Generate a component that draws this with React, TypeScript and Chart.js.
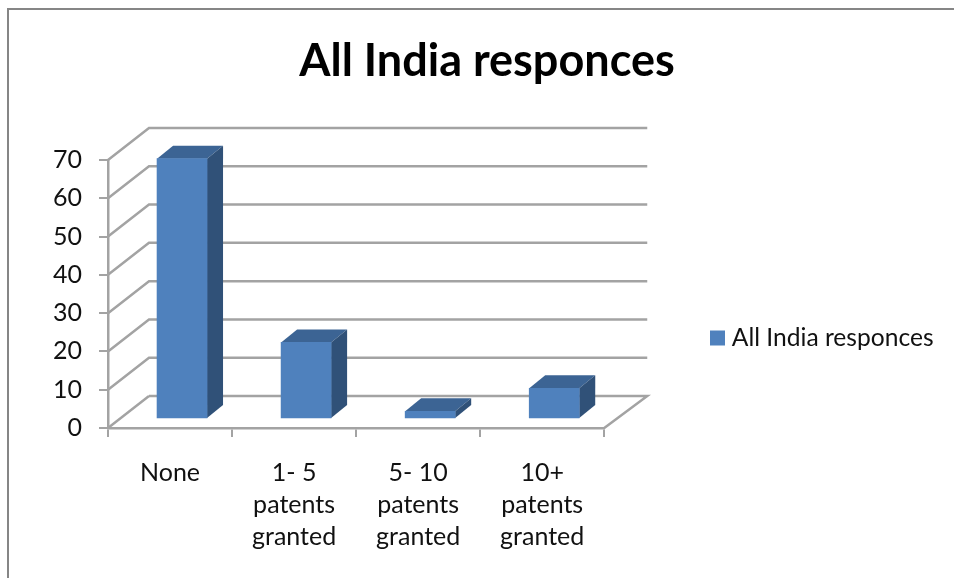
import React, { useEffect, useRef } from "react";
import { Chart, registerables } from "chart.js";

Chart.register(...registerables);

const categories: (string | string[])[] = [
  "None",
  ["1- 5", "patents", "granted"],
  ["5- 10", "patents", "granted"],
  ["10+", "patents", "granted"],
];
const seriesName = "All India responces";
const seriesValues = [68, 20, 2, 8];
const yTicks = [0, 10, 20, 30, 40, 50, 60, 70];
const titleText = "All India responces";

const FRONT = "#4F81BD";
const TOP = "#3C6494";
const SIDE = "#305178";
const GRID = "#A3A3A3";
const FONT = "Lato, Carlito, 'Open Sans', sans-serif";

const DEPTH_X = 41;
const DEPTH_Y = 32;
const BAR_X = 12;
const BAR_Y = 9;
const BAR_DX = 16;
const BAR_DY = 13;

const frame3d = {
  id: "frame3d",
  afterLayout(chart: any) {
    const lg = chart.legend;
    if (lg) {
      lg.left = 709.5;
      lg.right = 954;
      lg.top += 49;
      lg.bottom += 49;
    }
    const tb = chart.titleBlock;
    if (tb) {
      tb.left = 20;
      tb.right = 954;
    }
  },
  beforeDraw(chart: any) {
    const { ctx, scales } = chart;
    const y = scales.y;
    const x = scales.x;
    const l = x.left;
    const r = x.right;
    ctx.save();
    ctx.strokeStyle = "#868686";
    ctx.lineWidth = 2;
    ctx.beginPath();
    ctx.moveTo(8, 578);
    ctx.lineTo(8, 9);
    ctx.lineTo(954, 9);
    ctx.stroke();
    ctx.strokeStyle = GRID;
    ctx.lineWidth = 2.5;
    ctx.lineCap = "butt";
    for (const t of yTicks) {
      const py = y.getPixelForValue(t);
      ctx.beginPath();
      ctx.moveTo(l, py);
      ctx.lineTo(l + DEPTH_X, py - DEPTH_Y);
      if (t !== 0) ctx.lineTo(r + DEPTH_X + 2, py - DEPTH_Y);
      ctx.stroke();
    }
    const by = y.getPixelForValue(0);
    ctx.beginPath();
    ctx.moveTo(l + DEPTH_X, by - DEPTH_Y);
    ctx.lineTo(r + DEPTH_X + 2, by - DEPTH_Y);
    ctx.lineTo(r, by);
    ctx.stroke();
    ctx.restore();
  },
  beforeDatasetsDraw(chart: any) {
    const { ctx } = chart;
    const meta = chart.getDatasetMeta(0);
    ctx.save();
    ctx.translate(BAR_X, -BAR_Y);
    for (const bar of meta.data) {
      const hw = bar.width / 2;
      const x0 = bar.x - hw;
      const x1 = bar.x + hw;
      const t = bar.y;
      const b = bar.base;
      ctx.fillStyle = TOP;
      ctx.beginPath();
      ctx.moveTo(x0, t);
      ctx.lineTo(x0 + BAR_DX, t - BAR_DY);
      ctx.lineTo(x1 + BAR_DX, t - BAR_DY);
      ctx.lineTo(x1, t);
      ctx.closePath();
      ctx.fill();
      ctx.fillStyle = SIDE;
      ctx.beginPath();
      ctx.moveTo(x1, t);
      ctx.lineTo(x1 + BAR_DX, t - BAR_DY);
      ctx.lineTo(x1 + BAR_DX, b - BAR_DY);
      ctx.lineTo(x1, b);
      ctx.closePath();
      ctx.fill();
    }
  },
  afterDatasetsDraw(chart: any) {
    chart.ctx.restore();
  },
};

export default function App() {
  const ref = useRef<HTMLCanvasElement>(null);
  useEffect(() => {
    const chart = new Chart(ref.current!, {
      type: "bar",
      data: {
        labels: categories as any,
        datasets: [
          {
            label: seriesName,
            data: seriesValues,
            backgroundColor: FRONT,
            borderWidth: 0,
            barThickness: 50,
          },
        ],
      },
      plugins: [frame3d],
      options: {
        responsive: false,
        animation: false,
        layout: { padding: { left: 20, right: 155, top: 0, bottom: 0 } },
        plugins: {
          tooltip: { enabled: false },
          title: {
            display: true,
            text: titleText,
            color: "#000000",
            font: { family: FONT, size: 45, weight: "bold", lineHeight: 1.2 },
            padding: { top: 34, bottom: 72 },
          },
          legend: {
            display: true,
            position: "right",
            labels: {
              color: "#111111",
              boxWidth: 4,
              boxHeight: 4,
              padding: 6,
              font: { family: FONT, size: 24.6 },
              generateLabels(c: any) {
                return Chart.defaults.plugins.legend.labels
                  .generateLabels(c)
                  .map((it: any) => ({ ...it, lineWidth: 11, strokeStyle: FRONT }));
              },
            },
          },
        },
        scales: {
          x: {
            afterFit(s: any) {
              s.height = 150;
            },
            grid: {
              offset: true,
              drawOnChartArea: false,
              drawTicks: true,
              tickLength: 9,
              color: GRID,
              lineWidth: 2,
            },
            border: { color: GRID, width: 2.5 },
            ticks: {
              autoSkip: false,
              maxRotation: 0,
              minRotation: 0,
              padding: 20,
              color: "#111111",
              font: { family: FONT, size: 25, lineHeight: 1.28 },
            },
          },
          y: {
            min: 0,
            max: 70,
            afterFit(s: any) {
              s.width = 88;
            },
            grid: {
              drawOnChartArea: false,
              drawTicks: true,
              tickLength: 9,
              color: GRID,
              lineWidth: 2,
            },
            border: { color: GRID, width: 2.5 },
            afterBuildTicks(s: any) {
              s.ticks = yTicks.map((v) => ({ value: v }));
            },
            ticks: {
              padding: 17,
              color: "#111111",
              font: { family: FONT, size: 25 },
            },
          },
        },
      },
    } as any);
    return () => chart.destroy();
  }, []);
  return (
    <div style={{ position: "fixed", left: 0, top: 0, width: 954, height: 578, background: "#fff" }}>
      <canvas ref={ref} width={954} height={578} style={{ display: "block" }} />
    </div>
  );
}
